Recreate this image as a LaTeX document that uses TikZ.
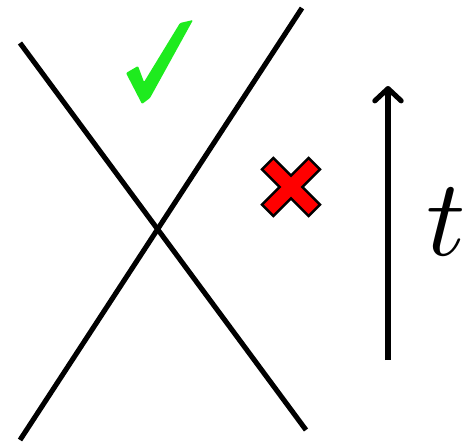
\documentclass[tikz,border=0pt]{standalone}
\usepackage{amsmath, amssymb}
\usepackage{xcolor}
\usepackage{tikz}
\usetikzlibrary{arrows.meta}

\definecolor{okgreen}{RGB}{30,235,30}
\definecolor{badred}{RGB}{255,0,0}

\tikzset{
  worldline/.style={line width=2.9pt},
  timearrow/.style={line width=2.9pt, -{Straight Barb[length=7pt, width=15pt, line width=2.9pt, round]}},
  okmark/.style={fill=okgreen, draw=none, rounded corners=0.6pt},
  nocross/.style={fill=badred, draw=black, line width=1.4pt, line join=miter}
}

\begin{document}
\begin{tikzpicture}[x=0.02cm, y=-0.02cm]
\useasboundingbox (0,0) rectangle (476,443);

% 两条世界线
\coordinate (p1) at (20,43);
\coordinate (p2) at (306,430);
\coordinate (q1) at (20,440);
\coordinate (q2) at (302,8);
\draw[worldline] (p1)--(p2);
\draw[worldline] (q1)--(q2);

% 对勾
\fill[okmark] (126,73) -- (138,66) -- (144,82) -- (180,23) -- (193,20)
  -- (150,98) -- (142,104) -- cycle;

% 叉号
\begin{scope}[shift={(291,187)}, rotate=45]
\draw[nocross] (-8,-33) -- (8,-33) -- (8,-8) -- (33,-8) -- (33,8) -- (8,8)
  -- (8,33) -- (-8,33) -- (-8,8) -- (-33,8) -- (-33,-8) -- (-8,-8) -- cycle;
\end{scope}

% 时间箭头
\coordinate (t0) at (388,360);
\coordinate (t1) at (388,86);
\draw[timearrow] (t0)--(t1);
\node[scale=6.2, inner sep=0pt] (tlabel) at (446,222) {$t$};
\end{tikzpicture}
\end{document}
